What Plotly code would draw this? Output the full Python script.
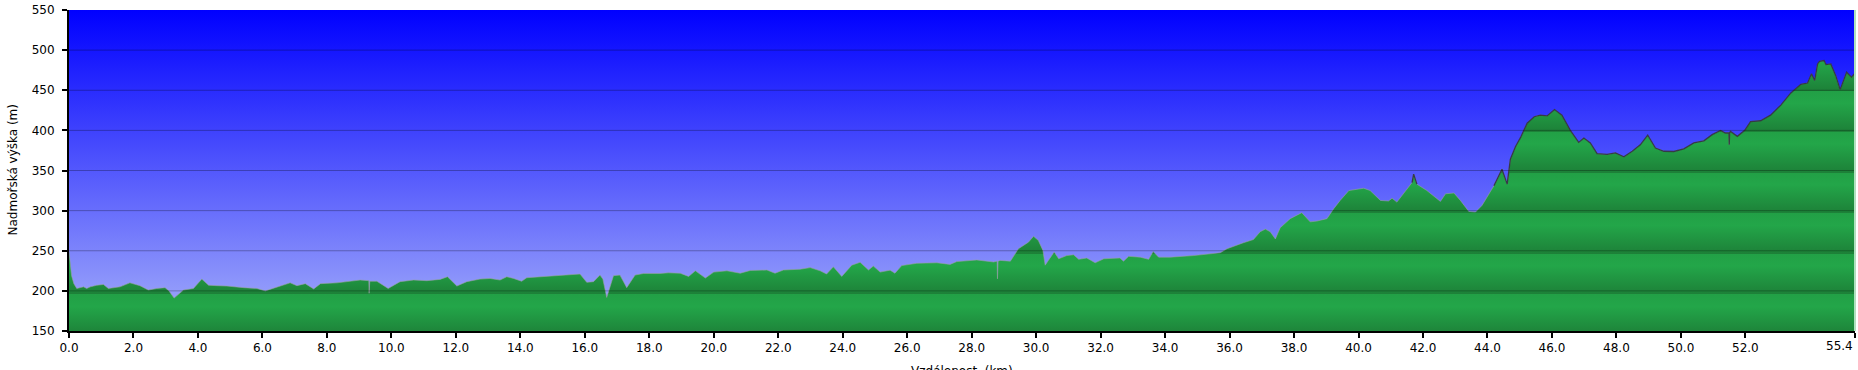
import plotly.graph_objects as go

# ---- data ----
dist_km = [
    0.0, 0.04, 0.08, 0.15, 0.24, 0.45, 0.55, 0.66, 0.86, 1.07, 1.22, 1.58, 1.89, 2.2, 2.46, 2.72, 2.98, 3.1, 3.26,
    3.55, 3.86, 4.12, 4.33, 4.59, 4.9, 5.42, 5.83, 6.09, 6.45, 6.86, 7.07, 7.33, 7.59, 7.8, 8.31, 8.83, 9.03,
    9.3, 9.31, 9.33, 9.55, 9.9, 10.27, 10.69, 11.1, 11.51, 11.74, 12.03, 12.34, 12.75, 13.06, 13.37, 13.58,
    13.79, 14.04, 14.2, 14.72, 15.23, 15.65, 15.85, 16.06, 16.27, 16.47, 16.56, 16.68, 16.89, 17.09, 17.3,
    17.56, 17.82, 18.33, 18.59, 18.96, 19.22, 19.43, 19.74, 20.0, 20.41, 20.82, 21.13, 21.65, 21.9, 22.16,
    22.68, 22.99, 23.3, 23.5, 23.71, 23.97, 24.28, 24.54, 24.8, 24.95, 25.16, 25.47, 25.62, 25.83, 26.3,
    26.92, 27.33, 27.54, 27.95, 28.16, 28.68, 28.79, 28.8, 28.82, 28.88, 29.2, 29.45, 29.61, 29.76, 29.92,
    30.07, 30.21, 30.28, 30.38, 30.56, 30.7, 30.95, 31.16, 31.32, 31.57, 31.83, 32.1, 32.6, 32.71, 32.87,
    33.23, 33.49, 33.63, 33.8, 34.16, 34.88, 35.71, 35.92, 36.43, 36.74, 36.95, 37.11, 37.26, 37.42, 37.57,
    37.88, 38.24, 38.5, 38.71, 39.02, 39.23, 39.43, 39.7, 40.05, 40.16, 40.36, 40.68, 40.93, 41.04, 41.19,
    41.5, 41.66, 41.71, 41.81, 42.12, 42.54, 42.7, 42.96, 43.16, 43.42, 43.63, 43.83, 44.2, 44.45, 44.61,
    44.71, 44.87, 45.02, 45.23, 45.45, 45.64, 45.85, 46.08, 46.31, 46.57, 46.83, 46.99, 47.19, 47.4, 47.71,
    47.97, 48.23, 48.49, 48.74, 48.97, 49.21, 49.47, 49.78, 50.09, 50.4, 50.71, 50.97, 51.23, 51.38, 51.49,
    51.5, 51.51, 51.54, 51.75, 51.98, 52.16, 52.47, 52.78, 53.1, 53.41, 53.72, 53.93, 54.05, 54.15, 54.24,
    54.3, 54.44, 54.5, 54.65, 54.8, 54.94, 55.14, 55.29, 55.4,
]
elev_m = [
    249, 232, 219, 209, 203, 205, 203, 205, 207, 208, 203, 205, 210, 206.5, 201, 203, 204, 200, 191,
    201, 203, 214.7, 207, 206.5, 206, 204, 203, 200, 205, 210, 206.5, 209, 202.4, 209, 210, 212, 213.5,
    212.7, 197, 212, 212, 203, 211.5, 213.5, 212.7, 214.3, 217.6, 206, 211.5, 214.7, 215.5, 213.5, 217.6,
    215.5, 212, 216.4, 217.6, 219, 219.7, 221, 210.6, 211.5, 219.7, 214.7, 191.8, 219, 219.7, 204,
    219.7, 221.7, 221.7, 222.5, 222, 218, 225, 216, 223.4, 225, 222, 225.4, 226, 222, 226,
    227, 229, 225, 221, 230, 218, 232, 235.6, 226, 231, 223.4, 225.8, 222, 231.5, 234.4,
    235, 233, 236.5, 238, 238.5, 236, 237, 215, 237, 238, 237, 252.5, 257, 260.7, 268,
    262.7, 250.4, 232, 238, 248.4, 240, 244, 245, 239.3, 241, 235, 240, 241, 237, 243,
    242, 239.3, 249, 242, 242, 244, 247.5, 252.5, 260, 264, 273.7, 277, 273.7, 264.7, 278.7,
    290, 297.5, 286, 287, 290, 302.4, 312.7, 325, 327, 327.9, 325, 312.7, 312, 315.5, 310.6,
    327, 335, 345.5, 333, 325, 311.5, 321, 322, 312.7, 299, 298.3, 306.5, 331, 351.6, 333,
    364, 380, 390.6, 409, 417, 419, 418, 426, 419, 400, 385, 390.5, 384.4, 371, 370,
    372, 367, 374, 382, 394, 378, 374, 373.7, 377, 384.4, 387, 394.7, 400, 396.7, 397,
    382, 397, 398.7, 392.6, 400, 411, 412, 419, 431.5, 446.7, 457.4, 459, 470.5, 462.3, 482.8,
    486, 487, 482, 482.8, 468.5, 450.8, 472.5, 466.4, 471.3,
]

y_range = [150, 550]
x_range = [0.0, 55.4]
y_ticks = [150, 200, 250, 300, 350, 400, 450, 500, 550]
x_ticks = [0, 2, 4, 6, 8, 10, 12, 14, 16, 18, 20, 22, 24, 26, 28, 30, 32, 34, 36, 38, 40, 42, 44, 46, 48, 50, 52, 55.4]
x_ticktext = [f"{v:.1f}" for v in x_ticks[:-1]] + [""]
x_title = "Vzdálenost\u00a0\u00a0(km)"
y_title = "Nadmořská výška (m)"

FONT = "DejaVu Sans"
FS = 12

# green gradient: each 50 m band gradually darker toward its bottom
n_bands = int((y_range[1] - y_range[0]) / 50)
dark = "rgb(29,128,56)"
light = "rgb(35,166,73)"
mid = "rgb(34,160,70)"
green_scale = []
for k in range(n_bands):
    green_scale.append([k / n_bands, dark])
    green_scale.append([(k + 0.7) / n_bands, light])
    green_scale.append([(k + 1) / n_bands, mid])

fig = go.Figure()

# sky background
fig.add_trace(go.Scatter(
    x=[x_range[0], x_range[1], x_range[1], x_range[0], x_range[0]],
    y=[y_range[0], y_range[0], y_range[1], y_range[1], y_range[0]],
    fill="toself", mode="lines", line=dict(width=0),
    fillgradient=dict(type="vertical", start=y_range[0], stop=y_range[1],
                      colorscale=[[0, "rgb(168,178,250)"], [1, "rgb(0,0,255)"]]),
    hoverinfo="skip", showlegend=False,
))

# elevation profile
fig.add_trace(go.Scatter(
    x=dist_km, y=elev_m, mode="lines", fill="tozeroy",
    line=dict(color="rgba(150,160,160,0.6)", width=1),
    fillgradient=dict(type="vertical", start=y_range[0], stop=y_range[1], colorscale=green_scale),
    showlegend=False,
))
# dark outline on the higher part
dark_y = [v if v >= 330 else None for v in elev_m]
fig.add_trace(go.Scatter(
    x=dist_km, y=dark_y, mode="lines", connectgaps=False,
    line=dict(color="rgba(45,45,55,0.85)", width=1.3),
    hoverinfo="skip", showlegend=False,
))

shapes = []
for v in y_ticks[1:-1]:
    shapes.append(dict(type="line", xref="paper", x0=0, x1=1, yref="y", y0=v, y1=v,
                       line=dict(color="rgba(0,0,0,0.28)", width=1), layer="above"))
shapes.append(dict(type="line", xref="paper", x0=1, x1=1, yref="paper", y0=0, y1=1,
                   line=dict(color="rgb(175,225,190)", width=2), layer="above"))

fig.update_layout(
    width=1858, height=370,
    margin=dict(l=69, r=3, t=6, b=39),
    paper_bgcolor="white", plot_bgcolor="white",
    font=dict(family=FONT, size=FS, color="black"),
    shapes=shapes,
    xaxis=dict(range=x_range, tickvals=x_ticks, ticktext=x_ticktext, showgrid=False, zeroline=False,
               showline=True, linecolor="black", linewidth=2, ticks="outside", ticklen=5, tickwidth=2,
               tickcolor="black", layer="above traces", ticklabeloverflow="allow",
               tickfont=dict(family=FONT, size=FS)),
    yaxis=dict(range=y_range, tickvals=y_ticks, showgrid=False, zeroline=False,
               showline=True, linecolor="black", linewidth=2, ticks="outside", ticklen=5, tickwidth=2,
               tickcolor="black", layer="above traces", ticklabelstandoff=5, ticklabeloverflow="allow",
               tickfont=dict(family=FONT, size=FS)),
    annotations=[
        dict(text=y_title, x=0, xref="paper", xanchor="center", xshift=-57, y=0.5, yref="paper",
             yanchor="middle", textangle=-90, showarrow=False, font=dict(family=FONT, size=FS)),
        dict(text=x_title, x=0.5, xref="paper", xanchor="center", y=0, yref="paper", yanchor="top",
             yshift=-31, showarrow=False, font=dict(family=FONT, size=FS)),
        dict(text=f"{x_ticks[-1]:.1f}", x=x_ticks[-1], xref="x", xanchor="right", y=0, yref="paper",
             yanchor="top", yshift=-6, showarrow=False, font=dict(family=FONT, size=FS)),
    ],
)

fig.write_html("out.html")
